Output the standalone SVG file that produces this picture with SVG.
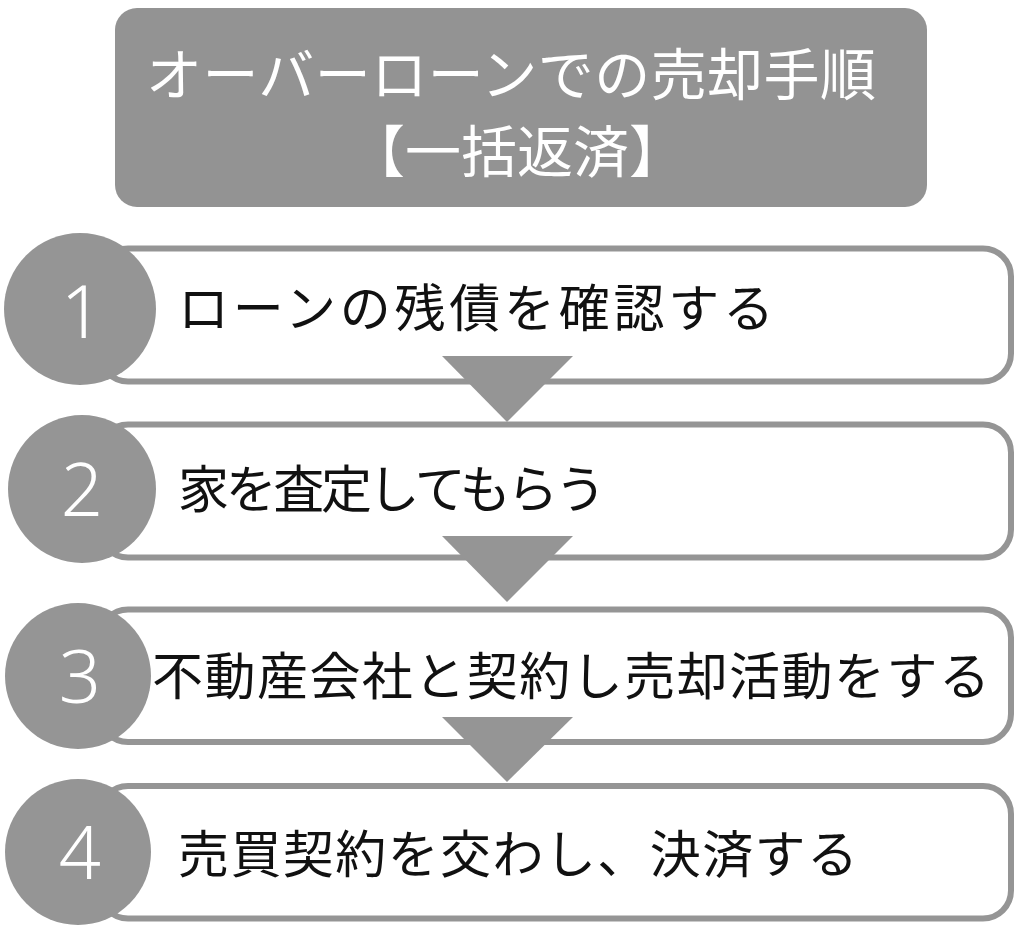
<svg xmlns="http://www.w3.org/2000/svg" width="1024" height="933" viewBox="0 0 1024 933">
<style>
.box{fill:#fff;stroke:#959595;stroke-width:6}
.circ{fill:#959595}
.num{fill:#fff;font-family:"Noto Sans","Liberation Sans",sans-serif;font-weight:300;font-size:74px;text-anchor:middle}
.lbl{fill:#111;font-family:"Noto Sans CJK JP",sans-serif;font-size:51px}
.ttl{fill:#fff;font-family:"Noto Sans CJK JP",sans-serif;font-size:56px;text-anchor:middle}
.tri{fill:#959595}
</style>
<rect width="1024" height="933" fill="#fff"/>
<g id="title">
<rect x="115" y="8" width="812" height="199" rx="22" fill="#939393"/>
<text class="ttl" x="511" y="95" textLength="730" lengthAdjust="spacing">オーバーローンでの売却手順</text>
<text class="ttl" x="517" y="172">【一括返済】</text>
</g>
<g id="step1">
<rect class="box" x="100" y="248.5" width="911" height="133" rx="28"/>
<circle class="circ" cx="80" cy="309" r="76"/>
<text class="num" x="82" y="338">1</text>
<text class="lbl" x="178" y="327" textLength="596" lengthAdjust="spacing">ローンの残債を確認する</text>
</g>
<g id="step2">
<rect class="box" x="100" y="424.5" width="911" height="133" rx="28"/>
<circle class="circ" cx="82" cy="489" r="74"/>
<text class="num" x="82" y="516">2</text>
<text class="lbl" x="178" y="508" textLength="428" lengthAdjust="spacing">家を査定してもらう</text>
</g>
<g id="step3">
<rect class="box" x="100" y="609.5" width="911" height="132.5" rx="28"/>
<circle class="circ" cx="78" cy="676" r="73"/>
<text class="num" x="80" y="703">3</text>
<text class="lbl" x="152" y="695" textLength="838" lengthAdjust="spacing">不動産会社と契約し売却活動をする</text>
</g>
<g id="step4">
<rect class="box" x="100" y="786" width="911" height="132.5" rx="28"/>
<circle class="circ" cx="78" cy="852" r="73"/>
<text class="num" x="80" y="879">4</text>
<text class="lbl" x="178" y="873" textLength="680" lengthAdjust="spacing">売買契約を交わし、決済する</text>
</g>
<g id="connectors">
<polygon class="tri" points="442,356 573,356 507,422"/>
<polygon class="tri" points="442,536 573,536 507,602"/>
<polygon class="tri" points="442,717 573,717 507,782"/>
</g>
</svg>
